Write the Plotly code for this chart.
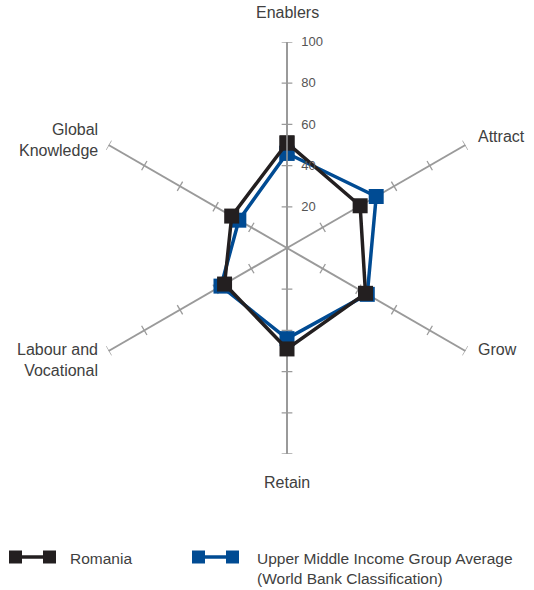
import numpy as np
import plotly.graph_objects as go

# Axes of the radar, clockwise from the top
categories = ["Enablers", "Attract", "Grow", "Retain", "Labour and<br>Vocational", "Global<br>Knowledge"]
romania = [51, 41, 44, 49, 35, 31]
upper_middle = [46, 50, 45, 44, 37, 27]
radial_ticks = [20, 40, 60, 80, 100]
series_names = ["Romania", "Upper Middle Income Group Average<br>(World Bank Classification)"]

BLACK = "#231f20"
BLUE = "#004b93"
GREY = "#9a9a9a"
TEXT = "#404040"
FONT = "Liberation Sans, Arial, sans-serif"
W, H = 534, 590

fig = go.Figure()

# small cross ticks on every spoke
n = len(categories)
step = 360 / n
theta = [k * step for k in range(n)]
half = 2.6
for ang in theta:
    for r in radial_ticks:
        rr = np.hypot(r, half)
        d = np.degrees(np.arctan2(half, r))
        fig.add_trace(go.Scatterpolar(
            r=[rr, rr], theta=[ang - d, ang + d],
            mode="lines", line=dict(color=GREY, width=1.3),
            hoverinfo="skip", showlegend=False,
        ))

def closed(v):
    return list(v) + [v[0]]

fig.add_trace(go.Scatterpolar(
    r=closed(upper_middle), theta=closed(theta), mode="lines+markers",
    line=dict(color=BLUE, width=3.5),
    marker=dict(symbol="square", size=15, color=BLUE),
    showlegend=False,
))
fig.add_trace(go.Scatterpolar(
    r=closed(romania), theta=closed(theta), mode="lines+markers",
    line=dict(color=BLACK, width=3.5),
    marker=dict(symbol="square", size=15, color=BLACK),
    showlegend=False,
))

# category labels (pixel positions of the reference layout)
label_pos = [
    (287, 13, "center", "center"),
    (476, 136, "left", "left"),
    (476, 349, "left", "left"),
    (287, 482, "center", "center"),
    (100, 360, "right", "right"),
    (100, 140, "right", "right"),
]
annotations = []
for text, (px, py, xa, al) in zip(categories, label_pos):
    annotations.append(dict(
        x=px / W, y=1 - py / H, xref="paper", yref="paper",
        text=text, showarrow=False, xanchor=xa, yanchor="middle", align=al,
        font=dict(size=16, color=TEXT),
    ))

# legend drawn by hand: line with a square at each end
shapes = []
legend_items = [(BLACK, 9, 68, 557), (BLUE, 192, 255, 557)]
for name, (col, x0, tx, py) in zip(series_names, legend_items):
    x1 = x0 + 47
    sq = 13
    shapes.append(dict(type="line", xref="paper", yref="paper",
                       x0=(x0 + sq) / W, x1=(x1 - sq) / W, y0=1 - py / H, y1=1 - py / H,
                       line=dict(color=col, width=3.5)))
    for sx in (x0, x1 - sq):
        shapes.append(dict(type="rect", xref="paper", yref="paper",
                           x0=sx / W, x1=(sx + sq) / W,
                           y0=1 - (py + sq / 2) / H, y1=1 - (py - sq / 2) / H,
                           fillcolor=col, line=dict(width=0)))
    annotations.append(dict(
        x=tx / W, y=1 - (py - 9) / H, xref="paper", yref="paper",
        text=name, showarrow=False, xanchor="left", yanchor="top", align="left",
        font=dict(size=15.5, color=TEXT),
    ))

fig.update_layout(
    width=W, height=H,
    margin=dict(l=0, r=0, t=0, b=0),
    paper_bgcolor="white", plot_bgcolor="white",
    font=dict(family=FONT, size=13, color=TEXT),
    showlegend=False,
    annotations=annotations,
    shapes=shapes,
    polar=dict(
        domain=dict(x=[81 / W, 493 / W], y=[1 - 454 / H, 1 - 42 / H]),
        bgcolor="white",
        angularaxis=dict(
            rotation=90, direction="clockwise",
            tickmode="array", tickvals=theta, showticklabels=False,
            showline=False, showgrid=True, gridcolor=GREY, gridwidth=1.5,
            ticks="",
        ),
        radialaxis=dict(
            range=[0, 100], angle=90, tickangle=90,
            tickvals=radial_ticks, showgrid=False,
            showline=True, linecolor=GREY, linewidth=1.5,
            ticks="outside", ticklen=11, tickcolor="rgba(0,0,0,0)",
            tickfont=dict(size=13, color="#555555"),
        ),
    ),
)

# the page body has a default 8px margin; remove it so the figure sits at 0,0
fig.write_html("out.html", config={"displayModeBar": False},
               post_script="document.body.style.margin='0';")
